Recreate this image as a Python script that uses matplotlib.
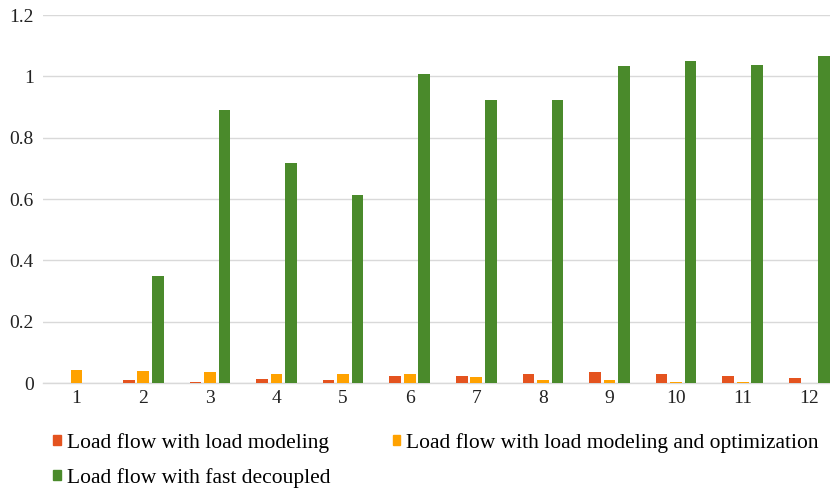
import matplotlib
matplotlib.use("Agg")
import matplotlib.pyplot as plt
import numpy as np
from matplotlib.patches import Patch

plt.rcParams['font.family'] = 'serif'
plt.rcParams['font.serif'] = ['Liberation Serif', 'DejaVu Serif']

# 数据
cases = ['1', '2', '3', '4', '5', '6', '7', '8', '9', '10', '11', '12']
load_modeling = [0.0, 0.009, 0.005, 0.012, 0.009, 0.024, 0.024, 0.031, 0.036, 0.031, 0.024, 0.016]
load_modeling_opt = [0.043, 0.039, 0.035, 0.031, 0.028, 0.028, 0.021, 0.009, 0.009, 0.005, 0.005, 0.0]
fast_decoupled = [0.0, 0.35, 0.89, 0.717, 0.612, 1.007, 0.923, 0.922, 1.034, 1.05, 1.037, 1.066]
yticks = [0, 0.2, 0.4, 0.6, 0.8, 1.0, 1.2]
ytick_labels = ['0', '0.2', '0.4', '0.6', '0.8', '1', '1.2']

c_red = '#E4531F'
c_orange = '#FFA200'
c_green = '#4A8A2B'

fig = plt.figure(figsize=(8.3, 4.88), dpi=100)
ax = fig.add_axes([0.0522, 0.215, 0.9478, 0.754])

x = np.arange(len(cases))
w = 0.175
step = 0.218
ax.bar(x - step, load_modeling, w, color=c_red, zorder=3)
ax.bar(x, load_modeling_opt, w, color=c_orange, zorder=3)
ax.bar(x + step, fast_decoupled, w, color=c_green, zorder=3)

ax.set_xlim(-0.5, 11.31)
ax.set_ylim(0, 1.2)
ax.set_yticks(yticks)
ax.set_yticklabels(ytick_labels)
ax.set_xticks(x)
ax.set_xticklabels(cases)
ax.tick_params(axis='both', length=0, labelsize=14, colors='#222222')
ax.tick_params(axis='y', pad=7)
ax.tick_params(axis='x', pad=5)
ax.grid(axis='y', color='#d9d9d9', linewidth=1, zorder=0)
for s in ['top', 'right', 'left']:
    ax.spines[s].set_visible(False)
ax.spines['bottom'].set_color('#d9d9d9')
ax.spines['bottom'].set_linewidth(1)

# 图例：两列，第二行只有绿色
handles = [Patch(color=c_red, label='Load flow with load modeling'),
           Patch(color=c_green, label='Load flow with fast decoupled'),
           Patch(color=c_orange, label='Load flow with load modeling and optimization')]
fig.legend(handles=handles, ncol=2, loc='upper left', bbox_to_anchor=(0.0535, 0.131),
           frameon=False, fontsize=15.5, handlelength=0.37, handleheight=0.37,
           handletextpad=0.26, columnspacing=2.9, labelspacing=0.7, borderaxespad=0)

fig.savefig('out.png', dpi=100)
